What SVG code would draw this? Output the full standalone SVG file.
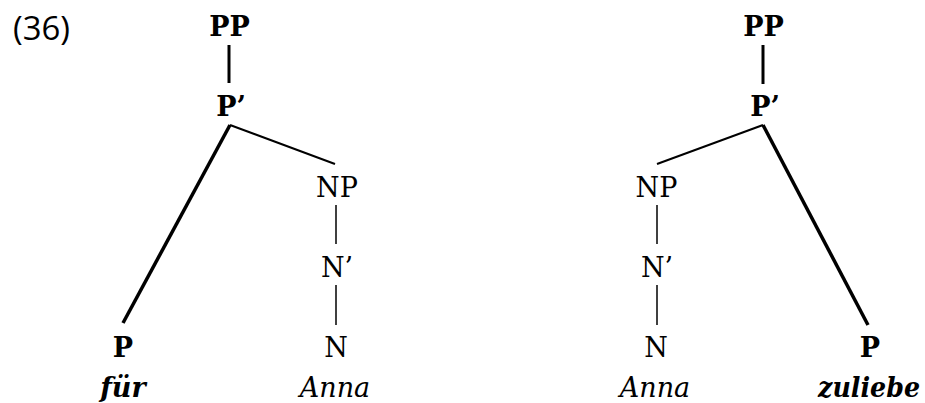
<svg xmlns="http://www.w3.org/2000/svg" width="925" height="403" viewBox="0 0 925 403">
<style>
text{font-family:"DejaVu Serif","Liberation Serif",serif;font-size:27px;fill:#000;text-anchor:middle}
.b{font-weight:bold}
.i{font-style:italic}
.num{font-family:"Open Sans","Liberation Sans",sans-serif;font-size:32px;text-anchor:start}
.c line{stroke:#000;stroke-linecap:butt}
.k{stroke-width:3.5}
.m{stroke-width:3}
.t{stroke-width:2}
.h{stroke-width:1.5}
</style>
<rect width="925" height="403" fill="#fff"/>
<text class="num" x="13" y="40" textLength="57" lengthAdjust="spacingAndGlyphs">(36)</text>
<g class="c" id="connectors">
<line class="m" x1="229" y1="45" x2="229" y2="83"/>
<line class="k" x1="230" y1="125" x2="123" y2="323"/>
<line class="t" x1="230" y1="125" x2="335" y2="164"/>
<line class="h" x1="336" y1="205" x2="336" y2="244"/>
<line class="h" x1="336" y1="285" x2="336" y2="325"/>
<line class="m" x1="763" y1="45" x2="763" y2="84"/>
<line class="t" x1="763" y1="125" x2="657" y2="164"/>
<line class="k" x1="763" y1="125" x2="868" y2="325"/>
<line class="h" x1="657" y1="205" x2="657" y2="244"/>
<line class="h" x1="657" y1="285" x2="657" y2="325"/>
</g>
<g id="l-PP"><text class="b" x="229.5" y="36">PP</text></g>
<g id="l-Pbar"><text class="b" x="231" y="116">P’</text></g>
<g id="l-P"><text class="b" x="123" y="357">P</text></g>
<g id="l-fur"><text class="b i" x="123" y="397">für</text></g>
<g id="l-NP"><text x="337" y="197">NP</text></g>
<g id="l-Nbar"><text x="337" y="277">N’</text></g>
<g id="l-N"><text x="336" y="357">N</text></g>
<g id="l-Anna"><text class="i" x="335" y="397">Anna</text></g>
<g id="r-PP"><text class="b" x="763.5" y="36">PP</text></g>
<g id="r-Pbar"><text class="b" x="765" y="116">P’</text></g>
<g id="r-NP"><text x="656.5" y="197">NP</text></g>
<g id="r-Nbar"><text x="657" y="277">N’</text></g>
<g id="r-N"><text x="656" y="357">N</text></g>
<g id="r-Anna"><text class="i" x="655" y="397">Anna</text></g>
<g id="r-P"><text class="b" x="870" y="357">P</text></g>
<g id="r-zuliebe"><text class="b i" x="869" y="397" textLength="102" lengthAdjust="spacingAndGlyphs">zuliebe</text></g>
</svg>
